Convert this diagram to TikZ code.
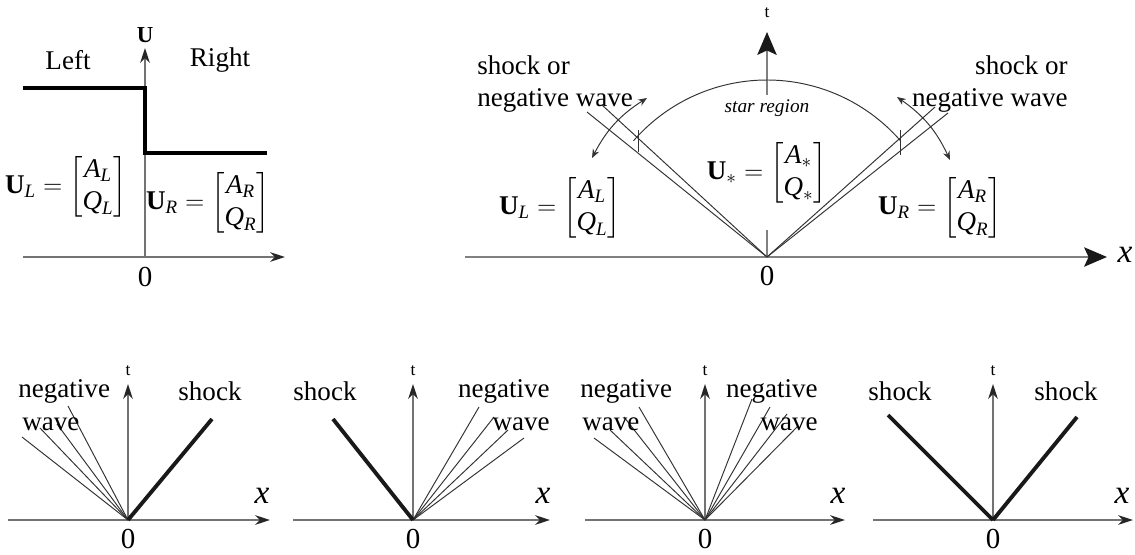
\documentclass[tikz,border=0pt]{standalone}
\usepackage{amsmath}
\usepackage{fontspec}
\setmainfont{Liberation Serif}
\usetikzlibrary{arrows.meta, positioning}

\newcommand{\statevec}[1]{$\textbf{U}_{#1} =\begin{bmatrix} \textit{A}_{#1} \\ \textit{Q}_{#1} \end{bmatrix}$}

\begin{document}
\begin{tikzpicture}[
        x = 0.02cm, y = 0.02cm,
        lbl/.style = {inner sep=0pt, font=\fontsize{15.4}{18.2}\selectfont},
        num/.style = {inner sep=0pt, font=\fontsize{16.5}{19}\selectfont},
        xlab/.style = {inner sep=0pt, font=\fontsize{19}{21}\selectfont\itshape},
        tlab/.style = {inner sep=0pt, font=\fontsize{10}{12}\selectfont},
        vec/.style = {inner sep=0pt, font=\fontsize{15.4}{18.2}\selectfont},
        axis/.style = {draw=black!55, line width=0.8pt, -{Stealth[length=8.5pt, width=5.5pt, black!85]}},
        bigaxis/.style = {draw=black!50, line width=1.1pt},
        bighead/.style = {-{Stealth[length=13pt, width=11pt, inset=2.5pt, black!90]}},
        shock/.style = {line width=2.2pt, black!90},
        fan/.style = {line width=0.55pt, black!80},
        twoway/.style = {fan, {Stealth[length=5pt, width=4pt]}-{Stealth[length=5pt, width=4pt]}}
    ]
    \useasboundingbox (0,0) rectangle (1135,-554);

    % initial data
    \coordinate (o1) at (145,-257);
    \draw[axis] (23,-257) -- (285,-257);
    \draw[axis] (o1) -- (145,-48);
    \node[lbl, font=\fontsize{13}{15}\selectfont\bfseries] (ulab) at (145,-35) {U};
    \draw[line width=2pt] (23,-88) -- (145,-88) -- (145,-153) -- (267,-153);
    \node[lbl] (left) at (68,-60) {Left};
    \node[lbl] (right) at (220,-60) {Right};
    \node[vec] (ul1) at (66,-187) {\statevec{\textit{L}}};
    \node[vec] (ur1) at (208,-203) {\statevec{\textit{R}}};
    \node[num] (zero1) at (145,-277) {0};

    % wave structure
    \coordinate (o2) at (767,-257);
    \draw[bigaxis, bighead] (465,-257) -- (1107,-257);
    \node[xlab] (x2) at (1125,-255) {x};
    \draw[bigaxis] (o2) -- ++(0,27);
    \draw[bigaxis, bighead] (767,-95) -- (767,-32);
    \node[tlab] (t2) at (767,-13) {t};
    \node[num] (zero2) at (767,-276) {0};
    \draw[fan] (o2) ++(41:177) arc[start angle=41, end angle=139, radius=177];
    \node[inner sep=0pt, font=\fontsize{11}{13}\selectfont\itshape] (star) at (767,-108) {star region};
    \node[vec] (us) at (767,-173) {\statevec{*}};
    \node[vec] (ul2) at (560,-208) {\statevec{\textit{L}}};
    \node[vec] (ur2) at (940,-208) {\statevec{\textit{R}}};

    \draw[fan] (o2) -- (587,-112);
    \draw[fan] (o2) -- (602,-105);
    \draw[fan] (o2) -- (935,-107);
    \draw[fan] (o2) -- (948,-113);
    \draw[fan] (638,-130) -- (638,-152);
    \draw[fan] (900,-130) -- (900,-155);
    \draw[twoway] (592,-158) to[bend left=15] (647,-98);
    \draw[twoway] (897,-97) to[bend left=15] (950,-160);
    \node[lbl, align=left, anchor=west] (lwave) at (477,-84) {shock or\\negative wave};
    \node[lbl, align=right, anchor=east] (rwave) at (1068,-84) {shock or\\negative wave};

    % four cases
    \foreach \o/\xl/\xr/\xx in {128/8/270/262, 413/293/550/543, 705/585/845/838, 993/873/1133/1122} {
        \draw[axis] (\xl,-520) -- (\xr,-520);
        \draw[axis] (\o,-520) -- (\o,-384);
        \node[tlab] (t\o) at (\o,-371) {t};
        \node[num] (zero\o) at (\o,-539) {0};
        \node[xlab] (x\o) at (\xx,-496) {x};
    }

    \coordinate (oa) at (128,-520);
    \foreach \px/\py in {22/437, 40/428, 57/424, 68/406}
        \draw[fan] (oa) -- (\px,-\py);
    \draw[shock] (oa) -- (212,-419);
    \node[lbl, anchor=west] (nega) at (18,-391) {negative};
    \node[lbl, anchor=west] (wavea) at (22,-424) {wave};
    \node[lbl] (shocka) at (210,-391) {shock};

    \coordinate (ob) at (413,-520);
    \foreach \px/\py in {479/407, 494/417, 508/430, 524/438}
        \draw[fan] (ob) -- (\px,-\py);
    \draw[shock] (ob) -- (333,-419);
    \node[lbl] (shockb) at (325,-391) {shock};
    \node[lbl, anchor=east] (negb) at (550,-391) {negative};
    \node[lbl, anchor=east] (waveb) at (550,-424) {wave};

    \coordinate (oc) at (705,-520);
    \foreach \px/\py in {594/438, 610/430, 624/417, 639/407, 752/399, 770/407, 787/414, 798/426}
        \draw[fan] (oc) -- (\px,-\py);
    \node[lbl, anchor=west] (negc) at (580,-391) {negative};
    \node[lbl, anchor=west] (wavec) at (582,-424) {wave};
    \node[lbl, anchor=east] (negc2) at (818,-391) {negative};
    \node[lbl, anchor=east] (wavec2) at (818,-424) {wave};

    \coordinate (od) at (993,-520);
    \draw[shock] (od) -- (888,-415);
    \draw[shock] (od) -- (1077,-417);
    \node[lbl] (shockd) at (900,-391) {shock};
    \node[lbl] (shockd2) at (1066,-391) {shock};
\end{tikzpicture}
\end{document}
